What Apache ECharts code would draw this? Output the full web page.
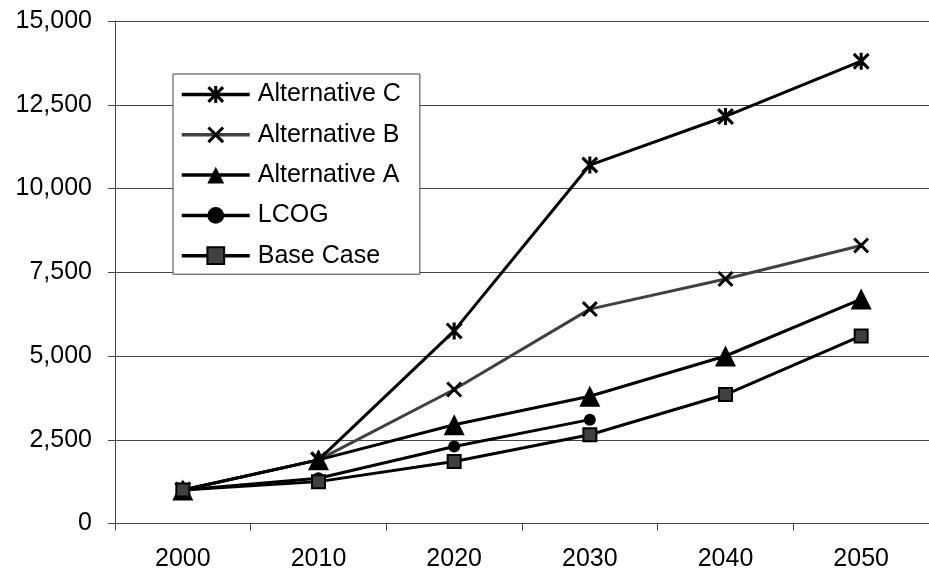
<!DOCTYPE html>
<html>
<head>
<meta charset="utf-8">
<style>
  html, body { margin: 0; padding: 0; background: #fff; }
  #chart { width: 929px; height: 578px; }
</style>
<script src="https://cdn.jsdelivr.net/npm/echarts@6/dist/echarts.min.js"></script>
</head>
<body>
<div id="chart"></div>
<script>
// Projected values by scenario, 2000-2050
const years = ['2000', '2010', '2020', '2030', '2040', '2050'];
const altC = [1000, 1900, 5750, 10700, 12150, 13800];
const altB = [1000, 1900, 4000, 6400, 7300, 8300];
const altA = [1000, 1900, 2950, 3800, 5000, 6700];
const lcog = [1000, 1350, 2300, 3100, null, null];
const baseCase = [1000, 1250, 1850, 2650, 3850, 5600];

const yMin = 0, yMax = 15000, yStep = 2500;

// Filled marker outlines (0..100 box): an X, and an X with a vertical bar
const crossPath = 'path://M13,0L100,87L87,100L0,13Z M87,0L100,13L13,100L0,87Z';
const starPath = 'path://M13,0L100,87L87,100L0,13Z M87,0L100,13L13,100L0,87Z M41,0L59,0L59,100L41,100Z';

const font = 'Liberation Sans, Arial, sans-serif';
const lineW = 3;

function lineSeries(name, data, color, symbol, size, extraItem) {
  return {
    name: name,
    type: 'line',
    data: data,
    symbol: symbol,
    symbolSize: size,
    connectNulls: false,
    lineStyle: { color: color, width: lineW },
    itemStyle: Object.assign({ color: '#000' }, extraItem || {}),
    emphasis: { disabled: true },
    animation: false
  };
}

const chart = echarts.init(document.getElementById('chart'), null, { renderer: 'canvas' });
chart.setOption({
  backgroundColor: '#fff',
  animation: false,
  grid: { left: 115, top: 21, width: 823, height: 502.5, containLabel: false },
  legend: {
    orient: 'vertical',
    left: 173,
    top: 74,
    padding: [8, 19, 6, 7],
    itemWidth: 68,
    itemHeight: 21,
    itemGap: 15.3,
    backgroundColor: '#fff',
    borderColor: '#444',
    borderWidth: 1,
    borderRadius: 0,
    selectedMode: false,
    lineStyle: { width: 3.5 },
    textStyle: { fontFamily: font, fontSize: 25, color: '#000', lineHeight: 25, padding: [0, 0, 0, 3] },
    data: ['Alternative C', 'Alternative B', 'Alternative A', 'LCOG', 'Base Case']
  },
  xAxis: {
    type: 'category',
    data: years,
    boundaryGap: true,
    axisLine: { lineStyle: { color: '#444', width: 1 } },
    axisTick: { show: true, length: 7, lineStyle: { color: '#444' } },
    axisLabel: { fontFamily: font, fontSize: 25, color: '#000', margin: 23 },
    splitLine: { show: false }
  },
  yAxis: {
    type: 'value',
    min: yMin,
    max: yMax,
    interval: yStep,
    axisLine: { show: true, lineStyle: { color: '#444', width: 1 } },
    axisTick: { show: true, length: 7, lineStyle: { color: '#444' } },
    axisLabel: {
      fontFamily: font, fontSize: 25, color: '#000', margin: 23,
      formatter: v => v.toLocaleString('en-US')
    },
    splitLine: { show: true, lineStyle: { color: '#444', width: 1 } }
  },
  series: [
    lineSeries('Alternative C', altC, '#000', starPath, 17),
    lineSeries('Alternative B', altB, '#404040', crossPath, 16),
    lineSeries('Alternative A', altA, '#000', 'triangle', 21),
    lineSeries('LCOG', lcog, '#000', 'circle', 12),
    lineSeries('Base Case', baseCase, '#000', 'rect', 13, { color: '#404040', borderColor: '#000', borderWidth: 2 })
  ]
});
</script>
</body>
</html>
